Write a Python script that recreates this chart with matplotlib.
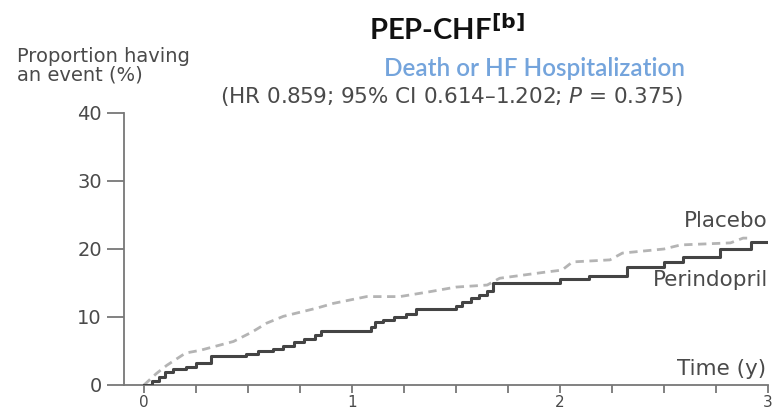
import matplotlib
matplotlib.use("Agg")
import matplotlib.pyplot as plt
from matplotlib.ticker import MultipleLocator

# Kaplan-Meier style cumulative event curves
peri_t = [0, 0.04, 0.07, 0.10, 0.14, 0.20, 0.25, 0.32, 0.49, 0.55, 0.62, 0.67,
          0.72, 0.77, 0.82, 0.85, 1.09, 1.11, 1.15, 1.20, 1.26, 1.31, 1.50,
          1.53, 1.57, 1.61, 1.65, 1.68, 2.00, 2.14, 2.32, 2.50, 2.59, 2.77,
          2.92, 3.0]
peri_v = [0, 0.6, 1.2, 1.9, 2.3, 2.6, 3.2, 4.3, 4.6, 5.0, 5.3, 5.8,
          6.3, 6.8, 7.3, 8.0, 8.5, 9.2, 9.6, 10.0, 10.5, 11.2, 11.6,
          12.2, 12.8, 13.3, 13.8, 15.0, 15.6, 16.0, 17.4, 18.1, 18.8, 20.0,
          21.1, 21.1]

plac_t = [0, 0.06, 0.11, 0.20, 0.27, 0.43, 0.52, 0.59, 0.67, 0.83, 0.91, 1.07,
          1.23, 1.37, 1.50, 1.65, 1.71, 1.93, 2.01, 2.06, 2.24, 2.30, 2.50,
          2.58, 2.82, 2.88, 2.92]
plac_v = [0, 1.7, 2.9, 4.7, 5.1, 6.4, 7.8, 9.1, 10.1, 11.3, 12.0, 13.0,
          13.0, 13.7, 14.4, 14.7, 15.7, 16.6, 16.9, 18.1, 18.4, 19.4, 20.0,
          20.6, 20.9, 21.6, 21.6]

y_ticks = [0, 10, 20, 30, 40]
x_ticks = [0, 1, 2, 3]

grey = "#4a4a4a"
sans = ["DejaVu Sans"]

fig = plt.figure(figsize=(7.77, 4.12), dpi=100)
ax = fig.add_axes([124 / 777, (412 - 385) / 412, (768 - 124) / 777, 272 / 412])

ax.plot(plac_t, plac_v, color="#b4b4b4", lw=2, linestyle=(0, (3, 2)))
ax.plot(peri_t, peri_v, color="#444444", lw=2.2, drawstyle="steps-post")

ax.set_xlim(-20 / 208, 3.0)
ax.set_ylim(0, 40)
for s in ["top", "right"]:
    ax.spines[s].set_visible(False)
for s in ["left", "bottom"]:
    ax.spines[s].set_color("#777777")
    ax.spines[s].set_linewidth(1.3)
ax.spines["bottom"].set_zorder(0)

ax.set_yticks(y_ticks)
ax.set_xticks(x_ticks)
ax.xaxis.set_minor_locator(MultipleLocator(0.25))
ax.tick_params(axis="y", length=12, width=1.3, color="#777777",
               labelsize=14, labelcolor=grey, pad=4)
ax.tick_params(axis="x", which="both", length=6, width=1.3, color="#777777",
               labelsize=11, labelcolor=grey, pad=1)
for lab in ax.get_xticklabels() + ax.get_yticklabels():
    lab.set_family(sans)
ax.patch.set_alpha(0)

# curve labels
ax.text(3.0, 22.7, "Placebo", ha="right", va="bottom", fontsize=15.5,
        color=grey, family=sans)
ax.text(3.0, 14.0, "Perindopril", ha="right", va="bottom", fontsize=15.5,
        color=grey, family=sans)
ax.text(2.99, 0.9, "Time (y)", ha="right", va="bottom", fontsize=15.5,
        color=grey, family=sans)

# titles
fig.text(447 / 777, 1 - 30 / 412, r"PEP-CHF$^{\mathbf{[b]}}$", ha="center",
         va="center", fontsize=21, fontweight="bold", family="Lato",
         color="#111111")
fig.text(535 / 777, 1 - 68 / 412, "Death or HF Hospitalization", ha="center",
         va="center", fontsize=17.5, fontweight="semibold", family="Lato",
         color="#74a4dc")
fig.text(452 / 777, 1 - 97 / 412,
         r"(HR 0.859; 95% CI 0.614–1.202; $\it{P}$ = 0.375)",
         ha="center", va="center", fontsize=15.5, color=grey, family=sans)
fig.text(17 / 777, 1 - 66 / 412, "Proportion having\nan event (%)",
         ha="left", va="center", fontsize=14, color=grey, family=sans,
         linespacing=0.95)

plt.savefig("out.png", dpi=100)
